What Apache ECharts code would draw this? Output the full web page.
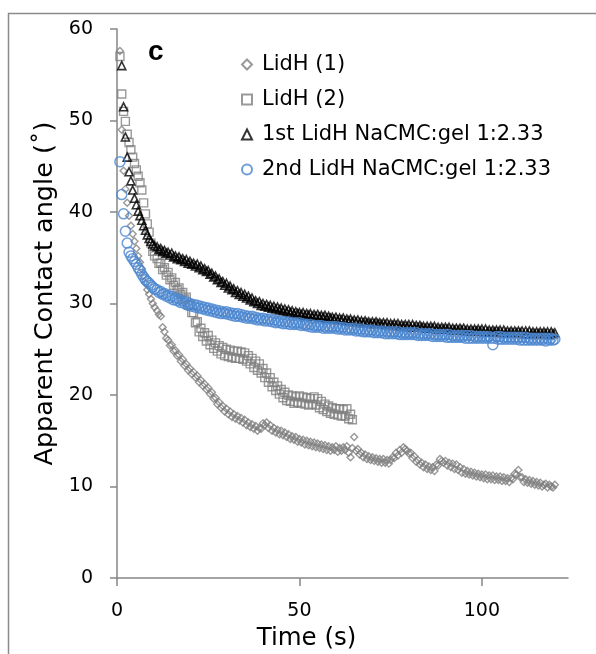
<!DOCTYPE html>
<html><head><meta charset="utf-8">
<script src="https://cdn.jsdelivr.net/npm/echarts@6/dist/echarts.min.js"></script>
<style>html,body{margin:0;padding:0;background:#fff}#c{width:596px;height:654px}</style>
</head><body><div id="c"></div>
<script>
const seriesNames = ['LidH (1)', 'LidH (2)', '1st LidH NaCMC:gel 1:2.33', '2nd LidH NaCMC:gel 1:2.33'];
const xTickLabels = [0, 50, 100];
const timeS = [0.8,1.3,1.8,2.3,2.8,3.3,3.8,4.3,4.8,5.3,5.8,6.3,6.8,7.3,7.8,8.3,8.8,9.3,9.8,10.3,
  11,11.5,12,12.5,13,13.5,14,14.5,15,15.5,16,16.5,17,17.5,18,18.5,19,19.5,20,20.5,
  21,21.5,22,22.5,23,23.5,24,24.5,25,25.5,26,26.5,27,27.5,28,28.5,29,29.5,30,30.5,
  31,31.5,32,32.5,33,33.5,34,34.5,35,35.5,36,36.5,37,37.5,38,38.5,39,39.5,40,40.5,
  41,41.5,42,42.5,43,43.5,44,44.5,45,45.5,46,46.5,47,47.5,48,48.5,49,49.5,50,50.5,
  51,51.5,52,52.5,53,53.5,54,54.5,55,55.5,56,56.5,57,57.5,58,58.5,59,59.5,60,60.5,
  61,61.5,62,62.5,63,63.5,64,64.5,65,65.5,66,66.5,67,67.5,68,68.5,69,69.5,70,70.5,
  71,71.5,72,72.5,73,73.5,74,74.5,75,75.5,76,76.5,77,77.5,78,78.5,79,79.5,80,80.5,
  81,81.5,82,82.5,83,83.5,84,84.5,85,85.5,86,86.5,87,87.5,88,88.5,89,89.5,90,90.5,
  91,91.5,92,92.5,93,93.5,94,94.5,95,95.5,96,96.5,97,97.5,98,98.5,99,99.5,100,100.5,
  101,101.5,102,102.5,103,103.5,104,104.5,105,105.5,106,106.5,107,107.5,108,108.5,109,109.5,110,110.5,
  111,111.5,112,112.5,113,113.5,114,114.5,115,115.5,116,116.5,117,117.5,118,118.5,119,119.5,120];
const lidH1 = [57.6,49.0,44.5,42.5,41.0,39.6,38.5,37.6,36.8,36.0,35.2,34.5,33.8,33.0,32.2,31.5,31.0,30.5,30.0,29.6,
  29.2,28.8,28.6,27.4,26.9,26.2,26.0,25.4,25.5,24.8,24.9,24.3,24.4,23.7,23.9,23.2,23.4,22.7,22.9,22.3,
  22.5,21.9,22.1,21.4,21.6,21.0,21.2,20.6,20.8,20.1,20.3,19.6,19.7,19.0,19.2,18.6,18.8,18.2,18.5,17.9,
  18.2,17.6,17.9,17.4,17.7,17.2,17.5,17.0,17.3,16.7,17.0,16.5,16.8,16.3,16.6,16.1,16.4,16.3,16.9,16.7,
  17.0,16.4,16.7,16.1,16.4,15.9,16.2,15.7,16.1,15.6,15.9,15.4,15.7,15.2,15.5,15.1,15.4,14.9,15.2,14.8,
  15.1,14.6,15.0,14.5,14.9,14.4,14.8,14.3,14.7,14.2,14.6,14.1,14.5,14.0,14.4,13.9,14.3,14.0,14.4,13.8,
  14.2,13.9,14.3,14.0,14.4,13.7,13.2,14.2,15.4,13.9,14.1,13.5,13.7,13.2,13.5,13.0,13.3,12.9,13.2,12.8,
  13.1,12.7,13.0,12.6,13.0,12.6,12.9,12.5,12.9,13.2,13.1,13.7,13.4,14.0,13.7,14.3,14.1,13.9,13.6,13.7,
  13.1,13.3,12.7,12.9,12.4,12.6,12.1,12.4,11.9,12.2,11.8,12.1,11.7,12.4,12.3,13.0,12.8,12.6,12.8,12.3,
  12.6,12.1,12.5,11.9,12.4,11.8,12.1,11.5,11.9,11.4,11.7,11.3,11.6,11.2,11.5,11.1,11.4,11.0,11.3,10.9,
  11.3,10.8,11.2,10.8,11.2,10.7,11.1,10.7,11.1,10.6,11.0,10.6,10.9,10.5,10.9,10.8,11.4,11.3,11.8,11.0,
  11.0,10.5,10.8,10.4,10.7,10.3,10.6,10.2,10.5,10.1,10.4,10.0,10.2,10.3,9.9,10.2,10.0,9.9,10.2];
const lidH2 = [57.0,52.9,51.0,49.9,48.5,47.6,46.8,46.0,45.3,44.6,43.9,43.2,42.4,41.0,39.8,38.7,37.8,36.6,35.7,35.2,
  34.9,34.4,34.4,33.7,33.9,33.1,33.4,32.6,32.8,32.0,32.3,31.5,31.7,31.0,31.2,30.5,30.7,29.8,29.9,29.0,
  29.0,27.9,28.0,26.9,27.3,26.4,26.8,25.9,26.5,25.5,26.0,25.1,25.7,24.8,25.4,24.5,25.2,24.3,25.0,24.2,
  24.9,24.1,24.8,24.0,24.8,24.0,24.7,23.9,24.6,23.7,24.3,23.4,24.0,23.0,23.7,22.7,23.4,22.4,22.9,21.9,
  22.4,21.4,21.9,20.9,21.4,20.5,21.0,20.1,20.6,19.7,20.3,19.4,20.0,19.3,19.9,19.1,19.8,19.2,19.9,19.1,
  19.8,19.0,19.7,18.9,19.6,19.0,19.8,18.9,19.6,18.6,19.3,18.4,19.0,18.2,18.8,18.0,18.6,17.9,18.5,17.8,
  18.5,17.7,18.4,17.7,18.5,17.4,17.9,17.3];
const gel1st = [null,56.0,51.5,48.2,46.0,44.4,43.4,42.4,41.5,40.8,40.1,39.6,39.1,38.5,38.0,37.5,37.1,36.8,36.5,36.3,
  36.2,35.9,36.0,35.7,35.8,35.5,35.6,35.3,35.5,35.1,35.2,34.9,35.1,34.8,34.9,34.6,34.8,34.4,34.6,34.3,
  34.4,34.1,34.3,33.9,34.1,33.7,33.8,33.5,33.6,33.2,33.3,32.9,33.0,32.6,32.7,32.3,32.4,32.0,32.2,31.7,
  31.9,31.5,31.6,31.2,31.4,31.0,31.2,30.8,31.0,30.6,30.8,30.4,30.6,30.2,30.3,30.0,30.2,29.8,30.0,29.7,
  29.9,29.6,29.8,29.5,29.7,29.4,29.6,29.3,29.5,29.2,29.4,29.1,29.3,29.0,29.2,28.9,29.1,28.9,29.0,28.8,
  29.0,28.7,28.9,28.7,28.9,28.6,28.8,28.6,28.8,28.5,28.7,28.5,28.7,28.4,28.6,28.4,28.5,28.3,28.5,28.2,
  28.4,28.2,28.4,28.1,28.3,28.1,28.3,28.0,28.2,28.0,28.2,27.9,28.1,27.9,28.1,27.9,28.0,27.8,28.0,27.8,
  28.0,27.8,27.9,27.7,27.9,27.7,27.9,27.6,27.8,27.6,27.8,27.6,27.8,27.5,27.7,27.5,27.7,27.5,27.7,27.4,
  27.7,27.4,27.6,27.4,27.6,27.4,27.5,27.3,27.5,27.3,27.5,27.3,27.5,27.2,27.4,27.2,27.4,27.2,27.4,27.2,
  27.4,27.1,27.3,27.1,27.3,27.1,27.3,27.1,27.3,27.0,27.2,27.0,27.2,27.0,27.2,27.0,27.2,27.0,27.2,26.9,
  27.2,26.9,27.1,26.9,27.1,26.9,27.1,26.9,27.1,26.8,27.1,26.8,27.0,26.8,27.0,26.8,27.0,26.8,27.0,26.8,
  27.0,26.7,27.0,26.7,27.0,26.7,26.9,26.7,26.9,26.7,26.9,26.7,26.9,26.7,26.9,26.6,26.9,26.7,26.8];
const gel2nd = [45.5,41.9,39.8,37.9,36.6,35.6,35.2,34.9,34.6,34.3,33.9,33.6,33.2,32.9,32.6,32.4,32.2,32.0,31.8,31.6,
  31.5,31.2,31.3,31.0,31.1,30.8,30.9,30.6,30.8,30.4,30.6,30.3,30.5,30.1,30.3,30.0,30.2,29.8,30.0,29.7,
  29.9,29.6,29.8,29.5,29.7,29.4,29.6,29.3,29.5,29.2,29.4,29.1,29.3,29.0,29.2,28.9,29.1,28.9,29.1,28.8,
  29.0,28.7,28.9,28.6,28.9,28.6,28.8,28.5,28.7,28.4,28.6,28.4,28.6,28.3,28.5,28.2,28.4,28.2,28.4,28.1,
  28.3,28.1,28.3,28.0,28.2,27.9,28.1,27.9,28.1,27.8,28.0,27.8,28.0,27.7,27.9,27.7,27.9,27.7,27.9,27.6,
  27.8,27.6,27.7,27.5,27.7,27.4,27.6,27.4,27.6,27.4,27.6,27.3,27.5,27.3,27.5,27.3,27.5,27.3,27.5,27.2,
  27.4,27.2,27.4,27.1,27.3,27.1,27.3,27.1,27.3,27.0,27.2,27.0,27.2,26.9,27.1,26.9,27.1,26.9,27.1,26.8,
  27.0,26.8,27.0,26.8,27.0,26.7,26.9,26.7,26.9,26.7,26.9,26.7,26.9,26.6,26.8,26.6,26.8,26.6,26.8,26.6,
  26.8,26.6,26.8,26.5,26.7,26.5,26.7,26.5,26.7,26.5,26.7,26.4,26.6,26.4,26.6,26.4,26.6,26.4,26.6,26.3,
  26.6,26.3,26.5,26.3,26.5,26.3,26.5,26.3,26.5,26.2,26.5,26.2,26.5,26.2,26.4,26.2,26.4,26.2,26.4,26.2,
  26.4,26.2,26.4,26.2,25.5,26.2,26.4,26.1,26.4,26.1,26.3,26.1,26.3,26.1,26.3,26.1,26.3,26.1,26.3,26.0,
  26.3,26.0,26.3,26.0,26.2,26.0,26.2,26.0,26.2,26.0,26.2,26.0,26.2,25.9,26.2,26.0,26.2,26.0,26.1];

function pairs(arr) {
  return arr.map((v, i) => [timeS[i], v]).filter(p => p[1] !== null && p[0] !== undefined);
}

const chart = echarts.init(document.getElementById('c'), null, {renderer: 'canvas'});
const axisColor = '#868686';
const font = 'DejaVu Sans';
const legendTops = [54, 89, 124, 159];
chart.setOption({
  animation: false,
  backgroundColor: '#fff',
  title: {
    text: 'c', left: 148, top: 38, padding: 0,
    textStyle: {fontFamily: 'Liberation Sans', fontWeight: 'bold', fontSize: 28, color: '#000'}
  },
  graphic: [{
    type: 'rect', silent: true,
    shape: {x: 8.5, y: 13.5, width: 800, height: 800},
    style: {fill: 'none', stroke: '#8a8a8a', lineWidth: 1.5}
  }],
  legend: seriesNames.map((n, i) => ({
    orient: 'vertical', left: 241, top: legendTops[i], padding: 0,
    itemWidth: 10, itemHeight: 10,
    textStyle: {fontFamily: font, fontSize: 21, color: '#000', padding: [0, 0, 0, 5]},
    data: [n]
  })),
  grid: {left: 117, top: 29, right: 28, bottom: 76, containLabel: false, outerBoundsMode: 'none'},
  xAxis: {
    type: 'value', min: 0, max: 123.6,
    name: 'Time (s)', nameLocation: 'middle', nameGap: 46,
    nameTextStyle: {fontFamily: font, fontSize: 24.5, color: '#000', padding: [0, 72, 0, 0]},
    axisLine: {show: true, lineStyle: {color: axisColor, width: 1.5}},
    axisTick: {show: true, length: 8, lineStyle: {color: axisColor, width: 1.5}, customValues: xTickLabels},
    axisLabel: {fontFamily: font, fontSize: 19, color: '#000', margin: 24, customValues: xTickLabels},
    splitLine: {show: false}
  },
  yAxis: {
    type: 'value', min: 0, max: 60, interval: 10,
    name: 'Apparent Contact angle (˚)', nameLocation: 'middle', nameGap: 57,
    nameTextStyle: {fontFamily: font, fontSize: 25.5, color: '#000', padding: [0, 0, 0, 20]},
    axisLine: {show: true, lineStyle: {color: axisColor, width: 1.5}},
    axisTick: {show: true, length: 7, lineStyle: {color: axisColor, width: 1.5}},
    axisLabel: {fontFamily: font, fontSize: 19, color: '#000', margin: 24},
    splitLine: {show: false}
  },
  series: [
    {name: seriesNames[0], type: 'scatter', symbol: 'diamond', symbolSize: 7,
     itemStyle: {color: 'rgba(0,0,0,0)', borderColor: '#808080', borderWidth: 1.4}, data: pairs(lidH1)},
    {name: seriesNames[1], type: 'scatter', symbol: 'rect', symbolSize: 8,
     itemStyle: {color: 'rgba(0,0,0,0)', borderColor: '#808080', borderWidth: 1.4}, data: pairs(lidH2)},
    {name: seriesNames[2], type: 'scatter', symbol: 'triangle', symbolSize: 8,
     itemStyle: {color: 'rgba(0,0,0,0)', borderColor: '#000', borderWidth: 1.6}, data: pairs(gel1st)},
    {name: seriesNames[3], type: 'scatter', symbol: 'circle', symbolSize: 10,
     itemStyle: {color: 'rgba(0,0,0,0)', borderColor: '#4a86d0', borderWidth: 1.5}, data: pairs(gel2nd)}
  ]
});
</script>
</body></html>
